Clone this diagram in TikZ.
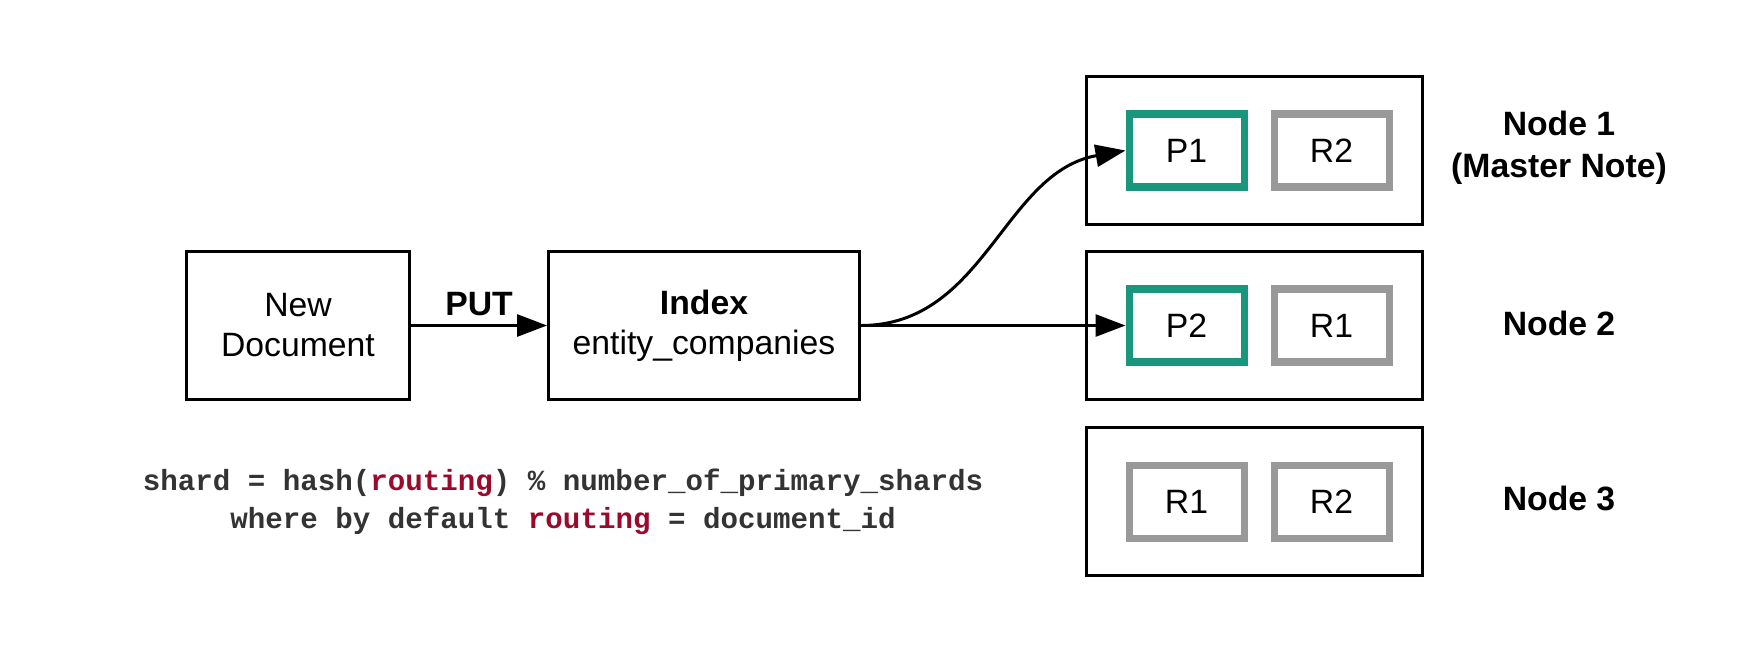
\documentclass[tikz,border=0pt]{standalone}
\usepackage{fontspec}
\setmainfont{Liberation Sans}
\setmonofont{Liberation Mono}
\usetikzlibrary{arrows.meta}

\definecolor{primteal}{HTML}{1A967D}
\definecolor{replgray}{HTML}{999999}
\definecolor{codered}{HTML}{9B0A2D}
\definecolor{codegray}{HTML}{333333}

\tikzset{
  box/.style={draw, line width=0.85pt, minimum height=1.48cm, align=center,
    font=\fontsize{9.6}{11.4}\selectfont},
  shardbox/.style={draw, line width=2pt, minimum width=1.15cm, minimum height=0.73cm,
    font=\fontsize{9.6}{11.4}\selectfont},
  primary/.style={shardbox, draw=primteal},
  replica/.style={shardbox, draw=replgray},
  nodelabel/.style={align=center, font=\fontsize{9.6}{11.8}\selectfont\bfseries},
  link/.style={line width=0.85pt, -{Triangle[length=0.3cm,width=0.22cm]}}
}

\begin{document}
\begin{tikzpicture}
  \useasboundingbox (0,0) rectangle (17.61,6.51);

  % Document and index
  \node[box, minimum width=2.23cm] (newdoc) at (2.98,3.255) {New\\Document};
  \node[box, minimum width=3.11cm] (index) at (7.04,3.255) {\textbf{Index}\\entity\_companies};

  % Cluster nodes
  \node[box, minimum width=3.36cm] (node1) at (12.545,5.005) {};
  \node[box, minimum width=3.36cm] (node2) at (12.545,3.255) {};
  \node[box, minimum width=3.36cm] (node3) at (12.545,1.495) {};

  % Shards
  \node[primary] (p1) at (11.865,5.005) {P1};
  \node[replica] (n1r2) at (13.315,5.005) {R2};
  \node[primary] (p2) at (11.865,3.255) {P2};
  \node[replica] (n2r1) at (13.315,3.255) {R1};
  \node[replica] (n3r1) at (11.865,1.495) {R1};
  \node[replica] (n3r2) at (13.315,1.495) {R2};

  % Node labels
  \node[nodelabel] (lab1) at (15.59,5.03) {Node 1\\(Master Note)};
  \node[nodelabel] (lab2) at (15.59,3.28) {Node 2};
  \node[nodelabel] (lab3) at (15.59,1.525) {Node 3};

  % Routing formula
  \node[align=center, text=codegray, font=\fontsize{8.3}{10.8}\selectfont\ttfamily\bfseries]
    (formula) at (5.63,1.49)
    {shard = hash(\textcolor{codered}{routing}) \% number\_of\_primary\_shards\\
     where by default \textcolor{codered}{routing} = document\_id};

  % Arrows
  \draw[link] (newdoc) -- node[above=-1pt, font=\fontsize{9.6}{11.4}\selectfont\bfseries] (put) {PUT} (index);
  \draw[link] (index.east) to[out=0,in=190] (p1.west);
  \draw[link] (index.east) -- (p2.west);
\end{tikzpicture}
\end{document}
